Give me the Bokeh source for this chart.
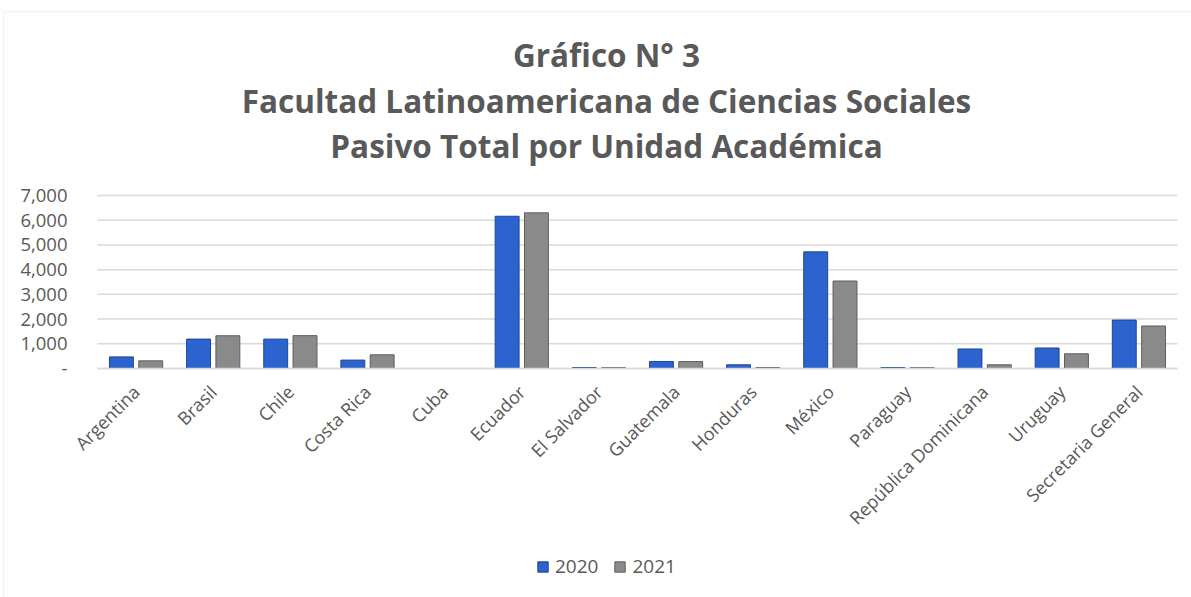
from bokeh.plotting import figure
from bokeh.models import (ColumnDataSource, Range1d, Legend, LegendItem, Label,
                          FixedTicker, CustomJSTickFormatter, BoxAnnotation)
from bokeh.transform import dodge
from bokeh.embed import file_html
from bokeh.resources import INLINE
import math

categories = ["Argentina", "Brasil", "Chile", "Costa Rica", "Cuba", "Ecuador",
              "El Salvador", "Guatemala", "Honduras", "México", "Paraguay",
              "República Dominicana", "Uruguay", "Secretaria General"]
v2020 = [470, 1190, 1190, 340, 0, 6160, 40, 285, 150, 4720, 40, 790, 830, 1960]
v2021 = [310, 1325, 1330, 555, 0, 6300, 35, 280, 40, 3540, 35, 150, 595, 1720]
series_labels = ["2020", "2021"]
title_lines = ["Gráfico N° 3", "Facultad Latinoamericana de Ciencias Sociales",
               "Pasivo Total por Unidad Académica"]
y_ticks = [0, 1000, 2000, 3000, 4000, 5000, 6000, 7000]

FONT = "Open Sans"
GRAY_TXT = "#595959"

# ---- layout constants (pixels of the 1191x597 canvas) ----
W, H = 1191, 597
PLOT_L, PLOT_R = 97, 1177          # value-axis area, horizontally
PLOT_T, PLOT_B = 195, 368          # 7000 line and 0 line, vertically
n = len(categories)
px_per_cat = (PLOT_R - PLOT_L) / n
px_per_unit = (PLOT_B - PLOT_T) / y_ticks[-1]
x_low = -0.5 - PLOT_L / px_per_cat
x_high = x_low + W / px_per_cat
y_high = y_ticks[-1] + PLOT_T / px_per_unit
y_low = y_high - H / px_per_unit

idx = list(range(n))
src = ColumnDataSource(dict(idx=idx, a=v2020, b=v2021))

p = figure(x_range=Range1d(x_low, x_high), y_range=Range1d(y_low, y_high),
           frame_width=W, frame_height=H, output_backend="svg",
           toolbar_location=None, min_border=0)
p.outline_line_color = None
p.border_fill_color = "white"
p.background_fill_color = "white"
p.xgrid.grid_line_color = None
p.ygrid.grid_line_color = None

# chart area border (light gray)
p.add_layout(BoxAnnotation(left=x_low + 3 / px_per_cat, right=x_high + 1,
                           top=y_high - 11 / px_per_unit, bottom=y_low - 1000,
                           fill_alpha=0, line_color="#D9D9D9", line_width=1.5))

# horizontal gridlines at the value ticks
p.segment(x0=[-0.5] * len(y_ticks), x1=[n - 0.5] * len(y_ticks),
          y0=y_ticks, y1=y_ticks, line_color="#D9D9D9", line_width=1.5)

r1 = p.vbar(x=dodge("idx", -0.19), top="a", width=0.31, source=src,
            fill_color="#2C63CE", line_color="#1D4796", line_width=1)
r2 = p.vbar(x=dodge("idx", 0.19), top="b", width=0.31, source=src,
            fill_color="#8A8A8A", line_color="#5E5E5E", line_width=1)

# title lines (screen units relative to the frame's bottom-left)
title_base = [54, 100, 145]
for t, b in zip(title_lines, title_base):
    p.add_layout(Label(x=606, y=H - b, x_units="screen", y_units="screen", text=t,
                       text_align="center", text_baseline="alphabetic",
                       text_font=FONT, text_font_size="31.5px",
                       text_font_style="bold", text_color=GRAY_TXT))

# value axis
p.yaxis.fixed_location = -0.5
p.yaxis.ticker = FixedTicker(ticks=y_ticks)
p.yaxis.bounds = (y_ticks[0], y_ticks[-1])
p.yaxis.formatter = CustomJSTickFormatter(code="""
    return tick == 0 ? "-" : tick.toLocaleString('en-US');
""")
p.yaxis.axis_line_color = None
p.yaxis.major_tick_line_color = None
p.yaxis.minor_tick_line_color = None
p.yaxis.major_label_text_font = FONT
p.yaxis.major_label_text_font_size = "18.5px"
p.yaxis.major_label_text_color = GRAY_TXT
p.yaxis.major_label_standoff = 24

# category axis
p.xaxis.fixed_location = 0
p.xaxis.ticker = FixedTicker(ticks=idx)
p.xaxis.major_label_overrides = {i: c for i, c in zip(idx, categories)}
p.xaxis.bounds = (-0.5, n - 0.5)
p.xaxis.axis_line_color = "#D9D9D9"
p.xaxis.axis_line_width = 1.5
p.xaxis.major_tick_line_color = None
p.xaxis.minor_tick_line_color = None
p.xaxis.major_label_orientation = math.pi / 4
p.xaxis.major_label_text_font = FONT
p.xaxis.major_label_text_font_size = "18px"
p.xaxis.major_label_text_color = GRAY_TXT
p.xaxis.major_label_standoff = 14

legend = Legend(items=[LegendItem(label=series_labels[0], renderers=[r1]),
                       LegendItem(label=series_labels[1], renderers=[r2])],
                orientation="horizontal", location=(536, 18),
                label_text_font=FONT, label_text_font_size="19px",
                label_text_color=GRAY_TXT, glyph_width=13, glyph_height=13,
                border_line_color=None, background_fill_alpha=0,
                spacing=15, label_standoff=6, margin=0, padding=5)
p.add_layout(legend, "center")

open("out.html", "w").write(file_html(p, INLINE))
